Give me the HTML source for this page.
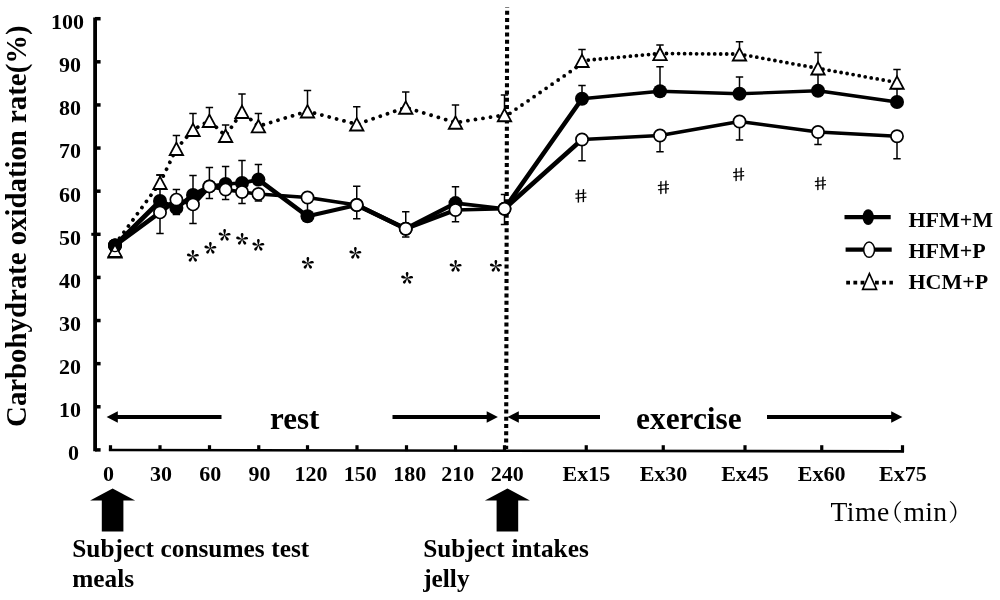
<!DOCTYPE html>
<html lang="en"><head><meta charset="utf-8"><title>Carbohydrate oxidation rate</title>
<style>html,body{margin:0;padding:0;background:#fff}svg{display:block;will-change:transform}svg{font-family:"Liberation Serif", serif}text{fill:#000}.b{font-weight:bold}</style></head><body>
<svg width="1000" height="600" viewBox="0 0 1000 600">
<rect width="1000" height="600" fill="#fff"/>
<g stroke="#000" fill="none">
<line x1="95.1" y1="17.6" x2="95.1" y2="451.3" stroke-width="3.8"/>
<line x1="95" y1="449.90" x2="100.6" y2="449.90" stroke-width="3.5"/>
<line x1="95" y1="406.78" x2="100.6" y2="406.78" stroke-width="3.5"/>
<line x1="95" y1="363.66" x2="100.6" y2="363.66" stroke-width="3.5"/>
<line x1="95" y1="320.54" x2="100.6" y2="320.54" stroke-width="3.5"/>
<line x1="95" y1="277.42" x2="100.6" y2="277.42" stroke-width="3.5"/>
<line x1="95" y1="234.30" x2="100.6" y2="234.30" stroke-width="3.5"/>
<line x1="95" y1="191.18" x2="100.6" y2="191.18" stroke-width="3.5"/>
<line x1="95" y1="148.06" x2="100.6" y2="148.06" stroke-width="3.5"/>
<line x1="95" y1="104.94" x2="100.6" y2="104.94" stroke-width="3.5"/>
<line x1="95" y1="61.82" x2="100.6" y2="61.82" stroke-width="3.5"/>
<line x1="95" y1="18.70" x2="100.6" y2="18.70" stroke-width="3.5"/>
<line x1="91.3" y1="234.3" x2="95" y2="234.3" stroke-width="3"/>
<line x1="108.9" y1="449.95" x2="904" y2="451.4" stroke-width="2.6"/>
<line x1="110.50" y1="445.2" x2="110.50" y2="450.50" stroke-width="3.2"/>
<line x1="160.00" y1="445.2" x2="160.00" y2="450.61" stroke-width="3.2"/>
<line x1="209.50" y1="445.2" x2="209.50" y2="450.72" stroke-width="3.2"/>
<line x1="258.75" y1="445.2" x2="258.75" y2="450.82" stroke-width="3.2"/>
<line x1="307.50" y1="445.2" x2="307.50" y2="450.92" stroke-width="3.2"/>
<line x1="357.00" y1="445.2" x2="357.00" y2="451.03" stroke-width="3.2"/>
<line x1="406.50" y1="445.2" x2="406.50" y2="451.14" stroke-width="3.2"/>
<line x1="455.50" y1="445.2" x2="455.50" y2="451.24" stroke-width="3.2"/>
<line x1="504.50" y1="445.2" x2="504.50" y2="451.35" stroke-width="3.2"/>
<line x1="586.25" y1="445.2" x2="586.25" y2="451.52" stroke-width="3.2"/>
<line x1="663.25" y1="445.2" x2="663.25" y2="451.69" stroke-width="3.2"/>
<line x1="745.00" y1="445.2" x2="745.00" y2="451.86" stroke-width="3.2"/>
<line x1="821.75" y1="445.2" x2="821.75" y2="452.03" stroke-width="3.2"/>
<line x1="902.50" y1="445.2" x2="902.50" y2="452.20" stroke-width="3.2"/>
</g>
<g class="b" font-size="22" text-anchor="end">
<text x="78.9" y="460.30">0</text>
<text x="80.9" y="417.18">10</text>
<text x="80.9" y="374.06">20</text>
<text x="80.9" y="330.94">30</text>
<text x="80.9" y="287.82">40</text>
<text x="80.9" y="244.70">50</text>
<text x="80.9" y="201.58">60</text>
<text x="80.9" y="158.46">70</text>
<text x="80.9" y="115.34">80</text>
<text x="80.9" y="72.22">90</text>
<text x="84.0" y="29.10">100</text>
</g>
<g class="b" font-size="22" text-anchor="middle">
<text x="108.60" y="480.5">0</text>
<text x="161.00" y="480.5">30</text>
<text x="210.30" y="480.5">60</text>
<text x="259.60" y="480.5">90</text>
<text x="311.10" y="480.5">120</text>
<text x="360.30" y="480.5">150</text>
<text x="409.70" y="480.5">180</text>
<text x="457.80" y="480.5">210</text>
<text x="507.30" y="480.5">240</text>
<text x="586.40" y="480.5">Ex15</text>
<text x="663.50" y="480.5">Ex30</text>
<text x="745.00" y="480.5">Ex45</text>
<text x="821.60" y="480.5">Ex60</text>
<text x="902.90" y="480.5">Ex75</text>
</g>
<text class="b" font-size="28.8" transform="translate(25.8,426.9) rotate(-90)">Carbohydrate oxidation rate(%)</text>
<line x1="507.15" y1="6.9" x2="506.15" y2="449" stroke="#000" stroke-width="4.1" stroke-dasharray="3.9 3.35" stroke-dashoffset="3.4"/>
<g stroke="#000" stroke-width="1.5" fill="none">
<path d="M160.00 201.00V175.00M156.30 175.00H163.70"/>
<path d="M176.40 199.60V189.40M172.70 189.40H180.10"/>
<path d="M193.00 195.00V175.60M189.30 175.60H196.70"/>
<path d="M209.40 186.40V167.60M205.70 167.60H213.10"/>
<path d="M225.60 184.00V166.60M221.90 166.60H229.30"/>
<path d="M242.00 183.00V160.40M238.30 160.40H245.70"/>
<path d="M258.40 179.60V164.40M254.70 164.40H262.10"/>
<path d="M160.00 212.40V233.50M156.30 233.50H163.70"/>
<path d="M176.40 208.00V214.60M172.70 214.60H180.10"/>
<path d="M193.00 204.40V223.60M189.30 223.60H196.70"/>
<path d="M209.40 186.40V198.40M205.70 198.40H213.10"/>
<path d="M225.60 189.60V199.60M221.90 199.60H229.30"/>
<path d="M242.00 192.00V203.60M238.30 203.60H245.70"/>
<path d="M258.40 194.00V201.00M254.70 201.00H262.10"/>
<path d="M307.50 216.25V200.00M303.80 200.00H311.20"/>
<path d="M356.75 205.00V186.25M353.05 186.25H360.45"/>
<path d="M356.75 205.00V218.75M353.05 218.75H360.45"/>
<path d="M405.75 228.75V211.75M402.05 211.75H409.45"/>
<path d="M405.75 228.75V237.00M402.05 237.00H409.45"/>
<path d="M455.50 203.10V186.70M451.80 186.70H459.20"/>
<path d="M455.50 210.00V221.75M451.80 221.75H459.20"/>
<path d="M504.50 208.75V194.50M500.80 194.50H508.20"/>
<path d="M504.50 208.75V224.50M500.80 224.50H508.20"/>
<path d="M160.00 184.00V175.00M156.30 175.00H163.70"/>
<path d="M176.40 150.00V135.60M172.70 135.60H180.10"/>
<path d="M193.00 131.00V113.60M189.30 113.60H196.70"/>
<path d="M209.40 122.00V107.40M205.70 107.40H213.10"/>
<path d="M225.60 137.00V125.00M221.90 125.00H229.30"/>
<path d="M242.00 113.00V94.00M238.30 94.00H245.70"/>
<path d="M258.40 127.40V113.60M254.70 113.60H262.10"/>
<path d="M307.50 112.50V90.50M303.80 90.50H311.20"/>
<path d="M356.75 125.50V106.75M353.05 106.75H360.45"/>
<path d="M405.75 108.75V92.00M402.05 92.00H409.45"/>
<path d="M455.50 123.75V105.00M451.80 105.00H459.20"/>
<path d="M504.50 116.25V95.00M500.80 95.00H508.20"/>
<path d="M582.00 62.00V49.50M578.30 49.50H585.70"/>
<path d="M582.00 98.75V85.50M578.30 85.50H585.70"/>
<path d="M582.00 139.50V160.75M578.30 160.75H585.70"/>
<path d="M660.00 54.50V45.00M656.30 45.00H663.70"/>
<path d="M660.00 91.25V66.75M656.30 66.75H663.70"/>
<path d="M660.00 135.50V151.75M656.30 151.75H663.70"/>
<path d="M739.50 55.50V41.75M735.80 41.75H743.20"/>
<path d="M739.50 93.75V77.00M735.80 77.00H743.20"/>
<path d="M739.50 121.50V140.00M735.80 140.00H743.20"/>
<path d="M818.00 69.50V52.50M814.30 52.50H821.70"/>
<path d="M818.00 90.75V74.50M814.30 74.50H821.70"/>
<path d="M818.00 132.00V144.50M814.30 144.50H821.70"/>
<path d="M897.00 83.75V69.50M893.30 69.50H900.70"/>
<path d="M897.00 102.00V88.75M893.30 88.75H900.70"/>
<path d="M897.00 136.25V158.75M893.30 158.75H900.70"/>
</g>
<polyline points="115.00,244.50 160.00,182.80 176.40,148.80 193.00,129.80 209.40,120.80 225.60,135.80 242.00,111.80 258.40,126.20 307.50,111.30 356.75,124.30 405.75,107.55 455.50,122.55 504.50,115.05" fill="none" stroke="#000" stroke-width="3.8" stroke-dasharray="0.01 7.61" stroke-linecap="round"/>
<path d="M510.0 113.3h0M516.0 109.1h0M522.0 105.0h0M528.1 100.8h0M534.1 96.7h0M540.1 92.5h0M546.1 88.3h0M552.1 84.2h0M558.2 80.0h0M564.2 75.9h0M570.2 71.7h0M576.2 67.6h0M582.2 63.4h0M588.3 60.1h0M594.3 59.5h0M600.3 59.0h0M606.3 58.4h0M612.3 57.9h0M618.4 57.3h0M624.4 56.8h0M630.4 56.2h0M636.4 55.7h0M642.4 55.1h0M648.5 54.6h0M654.5 54.0h0M660.5 53.5h0M666.5 53.5h0M672.5 53.6h0M678.6 53.6h0M684.6 53.7h0M690.6 53.7h0M696.6 53.8h0M702.6 53.8h0M708.7 53.9h0M714.7 53.9h0M720.7 54.0h0M726.7 54.0h0M732.7 54.0h0M738.8 54.1h0M744.8 55.1h0M750.8 56.1h0M756.8 57.2h0M762.8 58.3h0M768.9 59.4h0M774.9 60.5h0M780.9 61.6h0M786.9 62.7h0M792.9 63.8h0M799.0 64.9h0M805.0 65.9h0M811.0 67.0h0M817.0 68.1h0M823.0 69.2h0M829.1 70.3h0M835.1 71.4h0M841.1 72.5h0M847.1 73.5h0M853.1 74.6h0M859.2 75.7h0M865.2 76.8h0M871.2 77.9h0M877.2 78.9h0M883.2 80.0h0M889.3 81.1h0M895.3 82.2h0" fill="none" stroke="#000" stroke-width="3.8" stroke-linecap="round"/>
<g stroke="#000" stroke-linecap="round"><line x1="115.00" y1="245.50" x2="160.00" y2="201.00" stroke-width="4.60"/><line x1="160.00" y1="201.00" x2="176.40" y2="208.00" stroke-width="4.26"/><line x1="176.40" y1="208.00" x2="193.00" y2="195.00" stroke-width="4.56"/><line x1="193.00" y1="195.00" x2="209.40" y2="186.40" stroke-width="4.39"/><line x1="209.40" y1="186.40" x2="225.60" y2="184.00" stroke-width="3.69"/><line x1="225.60" y1="184.00" x2="242.00" y2="183.00" stroke-width="3.44"/><line x1="242.00" y1="183.00" x2="258.40" y2="179.60" stroke-width="3.84"/><line x1="258.40" y1="179.60" x2="307.50" y2="216.25" stroke-width="4.55"/><line x1="307.50" y1="216.25" x2="356.75" y2="205.00" stroke-width="3.89"/><line x1="356.75" y1="205.00" x2="405.75" y2="228.75" stroke-width="4.34"/><line x1="405.75" y1="228.75" x2="455.50" y2="203.10" stroke-width="4.38"/><line x1="455.50" y1="203.10" x2="504.50" y2="208.75" stroke-width="3.60"/><line x1="504.50" y1="208.75" x2="582.00" y2="98.75" stroke-width="4.53"/><line x1="582.00" y1="98.75" x2="660.00" y2="91.25" stroke-width="3.55"/><line x1="660.00" y1="91.25" x2="739.50" y2="93.75" stroke-width="3.35"/><line x1="739.50" y1="93.75" x2="818.00" y2="90.75" stroke-width="3.37"/><line x1="818.00" y1="90.75" x2="897.00" y2="102.00" stroke-width="3.68"/></g>
<g stroke="#000" stroke-linecap="round"><line x1="115.00" y1="245.50" x2="160.00" y2="212.40" stroke-width="4.54"/><line x1="160.00" y1="212.40" x2="176.40" y2="199.60" stroke-width="4.56"/><line x1="176.40" y1="199.60" x2="193.00" y2="204.40" stroke-width="4.02"/><line x1="193.00" y1="204.40" x2="209.40" y2="186.40" stroke-width="4.59"/><line x1="209.40" y1="186.40" x2="225.60" y2="189.60" stroke-width="3.82"/><line x1="225.60" y1="189.60" x2="242.00" y2="192.00" stroke-width="3.69"/><line x1="242.00" y1="192.00" x2="258.40" y2="194.00" stroke-width="3.62"/><line x1="258.40" y1="194.00" x2="307.50" y2="197.50" stroke-width="3.47"/><line x1="307.50" y1="197.50" x2="356.75" y2="205.00" stroke-width="3.70"/><line x1="356.75" y1="205.00" x2="405.75" y2="228.75" stroke-width="4.34"/><line x1="405.75" y1="228.75" x2="455.50" y2="210.00" stroke-width="4.19"/><line x1="455.50" y1="210.00" x2="504.50" y2="208.75" stroke-width="3.33"/><line x1="504.50" y1="208.75" x2="582.00" y2="139.50" stroke-width="4.59"/><line x1="582.00" y1="139.50" x2="660.00" y2="135.50" stroke-width="3.41"/><line x1="660.00" y1="135.50" x2="739.50" y2="121.50" stroke-width="3.76"/><line x1="739.50" y1="121.50" x2="818.00" y2="132.00" stroke-width="3.65"/><line x1="818.00" y1="132.00" x2="897.00" y2="136.25" stroke-width="3.42"/></g>
<g stroke="#000" stroke-width="1.8" fill="#fff">
<path d="M115.00 245.10L121.70 257.50H108.30Z"/>
<path d="M160.00 176.60L166.70 189.00H153.30Z"/>
<path d="M176.40 142.60L183.10 155.00H169.70Z"/>
<path d="M193.00 123.60L199.70 136.00H186.30Z"/>
<path d="M209.40 114.60L216.10 127.00H202.70Z"/>
<path d="M225.60 129.60L232.30 142.00H218.90Z"/>
<path d="M242.00 105.60L248.70 118.00H235.30Z"/>
<path d="M258.40 120.00L265.10 132.40H251.70Z"/>
<path d="M307.50 105.10L314.20 117.50H300.80Z"/>
<path d="M356.75 118.10L363.45 130.50H350.05Z"/>
<path d="M405.75 101.35L412.45 113.75H399.05Z"/>
<path d="M455.50 116.35L462.20 128.75H448.80Z"/>
<path d="M504.50 108.85L511.20 121.25H497.80Z"/>
<path d="M582.00 54.60L588.70 67.00H575.30Z"/>
<path d="M660.00 47.70L666.70 60.10H653.30Z"/>
<path d="M739.50 48.10L746.20 60.50H732.80Z"/>
<path d="M818.00 62.10L824.70 74.50H811.30Z"/>
<path d="M897.00 76.35L903.70 88.75H890.30Z"/>
</g>
<g fill="#000">
<circle cx="115.00" cy="245.50" r="7"/>
<circle cx="160.00" cy="201.00" r="7"/>
<circle cx="176.40" cy="208.00" r="7"/>
<circle cx="193.00" cy="195.00" r="7"/>
<circle cx="209.40" cy="186.40" r="7"/>
<circle cx="225.60" cy="184.00" r="7"/>
<circle cx="242.00" cy="183.00" r="7"/>
<circle cx="258.40" cy="179.60" r="7"/>
<circle cx="307.50" cy="216.25" r="7"/>
<circle cx="356.75" cy="205.00" r="7"/>
<circle cx="405.75" cy="228.75" r="7"/>
<circle cx="455.50" cy="203.10" r="7"/>
<circle cx="504.50" cy="208.75" r="7"/>
<circle cx="582.00" cy="98.75" r="7"/>
<circle cx="660.00" cy="91.25" r="7"/>
<circle cx="739.50" cy="93.75" r="7"/>
<circle cx="818.00" cy="90.75" r="7"/>
<circle cx="897.00" cy="102.00" r="7"/>
</g>
<g stroke="#000" stroke-width="1.7" fill="#fff">
<circle cx="115.00" cy="245.50" r="6.1"/>
<circle cx="160.00" cy="212.40" r="6.1"/>
<circle cx="176.40" cy="199.60" r="6.1"/>
<circle cx="193.00" cy="204.40" r="6.1"/>
<circle cx="209.40" cy="186.40" r="6.1"/>
<circle cx="225.60" cy="189.60" r="6.1"/>
<circle cx="242.00" cy="192.00" r="6.1"/>
<circle cx="258.40" cy="194.00" r="6.1"/>
<circle cx="307.50" cy="197.50" r="6.1"/>
<circle cx="356.75" cy="205.00" r="6.1"/>
<circle cx="405.75" cy="228.75" r="6.1"/>
<circle cx="455.50" cy="210.00" r="6.1"/>
<circle cx="504.50" cy="208.75" r="6.1"/>
<circle cx="582.00" cy="139.50" r="6.1"/>
<circle cx="660.00" cy="135.50" r="6.1"/>
<circle cx="739.50" cy="121.50" r="6.1"/>
<circle cx="818.00" cy="132.00" r="6.1"/>
<circle cx="897.00" cy="136.25" r="6.1"/>
</g>
<circle cx="115" cy="245.5" r="6.95" fill="#000"/>
<path d="M115 244.6L121.7 256.8H108.3Z" fill="#fff" stroke="#000" stroke-width="1.6"/>
<path d="M111.7 250.5A6 6 0 0 0 118.3 250.5" fill="none" stroke="#000" stroke-width="1.4"/>
<g font-size="26" font-weight="900" text-anchor="middle" style="font-family:'Noto Serif CJK JP','Noto Serif CJK SC','Liberation Serif', serif">
<text x="192.80" y="271.90">*</text>
<text x="210.45" y="263.95">*</text>
<text x="224.65" y="251.20">*</text>
<text x="242.05" y="255.45">*</text>
<text x="258.45" y="261.35">*</text>
<text x="307.80" y="279.30">*</text>
<text x="355.40" y="269.10">*</text>
<text x="407.00" y="294.30">*</text>
<text x="455.70" y="281.70">*</text>
<text x="495.90" y="282.10">*</text>
</g>
<g font-size="18" text-anchor="middle" style="font-family:'Noto Sans CJK JP','Noto Sans CJK SC',sans-serif">
<text transform="translate(581.90,202.40) skewY(-6) skewX(9) scale(1.33,1)">#</text>
<text transform="translate(664.50,193.80) skewY(-6) skewX(9) scale(1.33,1)">#</text>
<text transform="translate(739.75,180.80) skewY(-6) skewX(9) scale(1.33,1)">#</text>
<text transform="translate(821.50,189.80) skewY(-6) skewX(9) scale(1.33,1)">#</text>
</g>
<path d="M114.60 417.00H221.50" stroke="#000" stroke-width="4"/>
<path d="M106.60 417.00L117.80 411.20V422.80Z" fill="#000"/>
<path d="M392.50 417.00H489.90" stroke="#000" stroke-width="4"/>
<path d="M497.90 417.00L486.70 411.20V422.80Z" fill="#000"/>
<path d="M515.60 417.00H600.00" stroke="#000" stroke-width="4"/>
<path d="M507.60 417.00L518.80 411.20V422.80Z" fill="#000"/>
<path d="M767.00 417.00H894.40" stroke="#000" stroke-width="4"/>
<path d="M902.40 417.00L891.20 411.20V422.80Z" fill="#000"/>
<text class="b" font-size="31" x="270" y="428.7">rest</text>
<text class="b" font-size="31.4" x="636" y="428.7">exercise</text>
<path d="M112.60 488.4L135.10 500.4H123.40V531.6H101.80V500.4H90.10Z" fill="#000"/>
<path d="M507.40 488.4L529.90 500.4H518.20V531.6H496.60V500.4H484.90Z" fill="#000"/>
<g class="b" font-size="25.3" word-spacing="0.4">
<text x="72.3" y="557.4">Subject consumes test</text>
<text x="72.3" y="586.5">meals</text>
<text x="423.2" y="557.4">Subject intakes</text>
<text x="423.2" y="586.5">jelly</text>
</g>
<text font-size="27.6" style="font-family:'Liberation Serif','Noto Serif CJK JP','Noto Serif CJK SC',serif" y="521.3"><tspan x="830.4" letter-spacing="0.5">Time</tspan><tspan x="879.2" y="520.6" font-size="23.4">（</tspan><tspan x="903.6" y="521.3" letter-spacing="0.3">min</tspan><tspan x="948.3" y="520.6" font-size="23.4">）</tspan></text>
<g stroke="#000">
<line x1="844.5" y1="217.1" x2="890.7" y2="217.1" stroke-width="4.2"/>
<ellipse cx="868.2" cy="217.1" rx="5.7" ry="7.9" fill="#000" stroke="none"/>
<line x1="845.6" y1="249.7" x2="891.7" y2="249.7" stroke-width="4.2"/>
<ellipse cx="869.1" cy="249.7" rx="5.4" ry="7.6" fill="#fff" stroke-width="1.5"/>
<line x1="846.2" y1="282.6" x2="892.9" y2="282.6" stroke-width="3.7" stroke-dasharray="3.8 3.4"/>
<path d="M869.4 273.6L876.6 289.4H862.6Z" fill="#fff" stroke-width="1.6"/>
</g>
<g class="b" font-size="22">
<text x="908.5" y="226.5">HFM+M</text>
<text x="908.5" y="258.2">HFM+P</text>
<text x="908.5" y="289">HCM+P</text>
</g>
</svg></body></html>
